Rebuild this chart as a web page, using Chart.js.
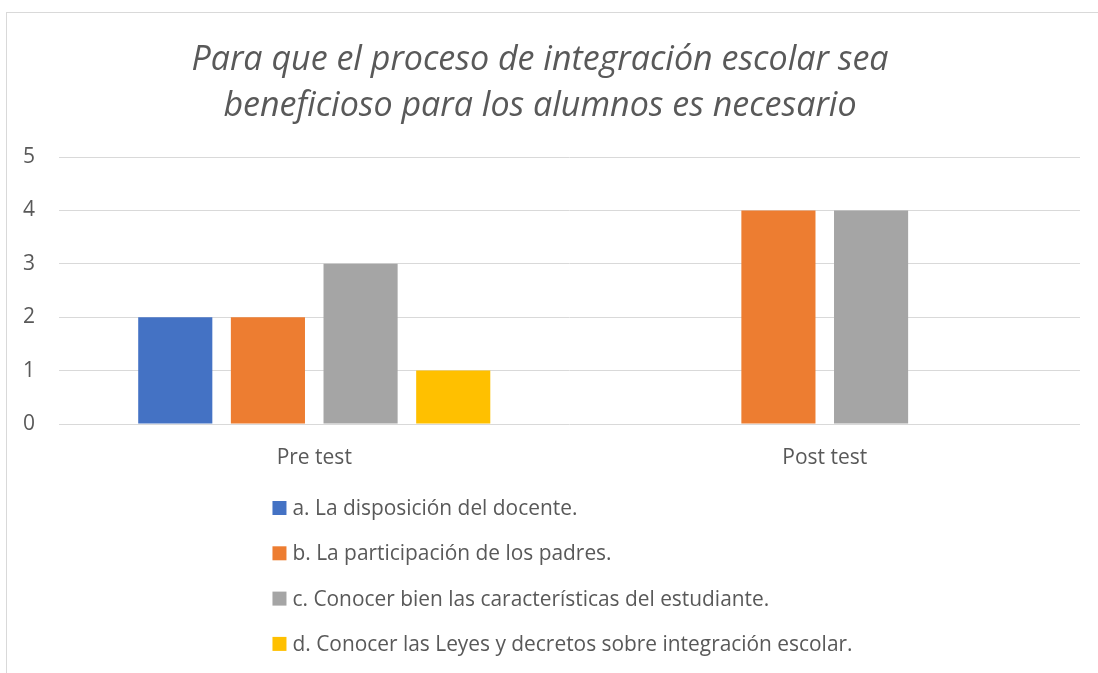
<!DOCTYPE html>
<html>
<head>
<meta charset="utf-8">
<script src="https://cdn.jsdelivr.net/npm/chart.js@4.4.0/dist/chart.umd.min.js"></script>
<style>
  html, body { margin: 0; padding: 0; background: #fff; overflow: hidden; }
  #frame { position: absolute; left: 6px; top: 12px; width: 1200px; height: 800px; border: 1px solid #d9d9d9; }
  #wrap { position: absolute; left: 0; top: 0; width: 1098px; height: 673px; }
</style>
</head>
<body>
<div id="frame"></div>
<div id="wrap"><canvas id="chart"></canvas></div>
<script>
// categorias y valores
const categorias = ['Pre test', 'Post test'];
const serieA = [2, 0];
const serieB = [2, 4];
const serieC = [3, 4];
const serieD = [1, 0];
const etiquetas = [
  'a. La disposición del docente.',
  'b. La participación de los padres.',
  'c. Conocer bien las características del estudiante.',
  'd. Conocer las Leyes y decretos sobre integración escolar.'
];
const colores = ['#4472C4', '#ED7D31', '#A5A5A5', '#FFC000'];
const tituloLineas = [
  'Para que el proceso de integración escolar sea',
  'beneficioso para los alumnos es necesario'
];

const gris = '#595959';
const fuente = '"Open Sans", "Noto Sans", sans-serif';

// leyenda vertical como en Excel
const leyendaVertical = {
  id: 'leyendaVertical',
  afterDraw(chart) {
    const ctx = chart.ctx;
    const area = chart.chartArea;
    ctx.save();
    ctx.font = '20.9px ' + fuente;
    ctx.textBaseline = 'middle';
    const anchos = chart.data.datasets.map(d => ctx.measureText(d.label).width);
    const anchoBloque = 14 + 6 + Math.max(...anchos);
    const x0 = (area.left + area.right) / 2 - 7 - anchoBloque / 2;
    chart.data.datasets.forEach((d, i) => {
      const y = area.bottom + 84 + i * 45.3;
      ctx.fillStyle = d.backgroundColor;
      ctx.fillRect(x0, y - 7, 14, 14);
      ctx.fillStyle = gris;
      ctx.fillText(d.label, x0 + 20, y + 1);
    });
    ctx.restore();
  }
};

const series = [serieA, serieB, serieC, serieD];

new Chart(document.getElementById('chart'), {
  type: 'bar',
  data: {
    labels: categorias,
    datasets: series.map((valores, i) => ({
      label: etiquetas[i],
      data: valores,
      backgroundColor: colores[i],
      borderWidth: 0,
      categoryPercentage: 0.726,
      barPercentage: 0.8
    }))
  },
  options: {
    responsive: true,
    maintainAspectRatio: false,
    animation: false,
    layout: { padding: { left: 0, right: 18, top: 0, bottom: 0 } },
    plugins: {
      legend: { display: false },
      tooltip: { enabled: false },
      title: {
        display: true,
        text: tituloLineas,
        color: gris,
        font: { family: fuente, size: 34, style: 'italic', weight: 'normal', lineHeight: 1.353 },
        padding: { top: 37, bottom: 28 }
      }
    },
    scales: {
      x: {
        grid: { display: false, drawTicks: false },
        border: { display: false },
        ticks: { color: gris, font: { family: fuente, size: 21 }, padding: 21 },
        afterFit: (s) => { s.height = 249; }
      },
      y: {
        min: 0,
        max: 5,
        ticks: { stepSize: 1, color: gris, font: { family: fuente, size: 21 }, padding: 24 },
        grid: { color: '#d9d9d9', lineWidth: 1, drawTicks: false },
        border: { display: false },
        afterFit: (s) => { s.width = 59; }
      }
    }
  },
  plugins: [leyendaVertical]
});
</script>
</body>
</html>
